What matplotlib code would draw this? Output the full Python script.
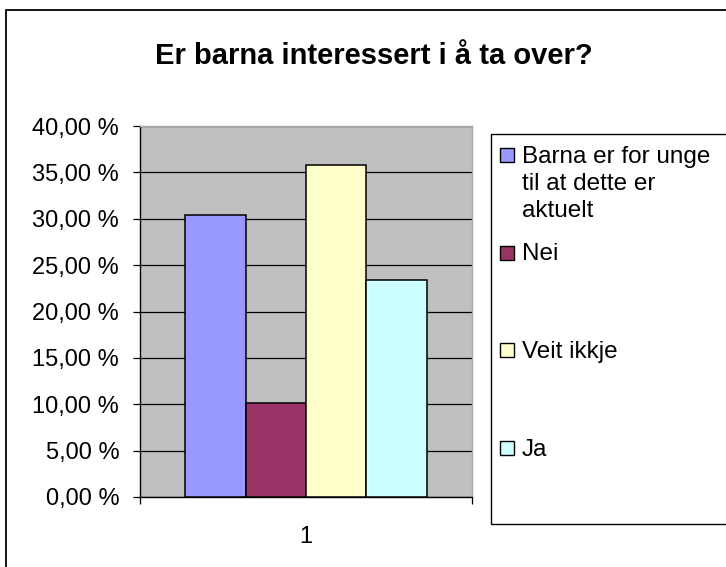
import matplotlib
matplotlib.use('Agg')
import matplotlib.pyplot as plt
import matplotlib.patches as patches
import numpy as np

title = "Er barna interessert i å ta over?"
categories = ["1"]
series_labels = ["Barna er for unge\ntil at dette er\naktuelt", "Nei", "Veit ikkje", "Ja"]
series_values = [30.4, 10.1, 35.8, 23.4]  # percent
series_colors = ["#9999FF", "#993366", "#FFFFCC", "#CCFFFF"]
yticks = [0, 5, 10, 15, 20, 25, 30, 35, 40]

W, H = 726, 567
plt.rcParams['font.family'] = ['Liberation Sans', 'DejaVu Sans']

fig = plt.figure(figsize=(W / 100, H / 100), dpi=100)

def fx(px):
  return px / W

def fy(py):
  return 1 - py / H

# outer chart frame (runs off the right and bottom edge like the original)
fig.patches.append(patches.Rectangle((fx(6), fy(620)), 1.2, fy(10) - fy(620),
                                     transform=fig.transFigure, fill=False,
                                     edgecolor='black', linewidth=1.3, clip_on=False))

ax = fig.add_axes([fx(140), fy(497), fx(472) - fx(140), fy(126) - fy(497)])
ax.set_facecolor('#C0C0C0')

n = len(series_values)
gap = 1.5
bar_w = 1.0 / (n + gap)
index = np.arange(len(categories))
for i, v in enumerate(series_values):
  ax.bar(index + (i - (n - 1) / 2.0) * bar_w, [v], bar_w, color=series_colors[i],
         edgecolor='black', linewidth=1.1, zorder=3)

ax.set_ylim(0, 40)
ax.set_xlim(-0.5, 0.5)
ax.set_yticks(yticks)
ax.set_yticklabels([("%.2f" % t).replace('.', ',') + " %" for t in yticks], fontsize=17)
ax.yaxis.grid(True, color='black', linewidth=0.9, zorder=1)
ax.set_axisbelow(True)
ax.tick_params(axis='y', direction='out', length=5, width=0.9, pad=10)

ax.set_xticks([-0.5, 0.5])
ax.set_xticklabels(["", ""])
ax.set_xticks(index, minor=True)
ax.set_xticklabels(categories, minor=True, fontsize=17)
ax.tick_params(axis='x', which='major', direction='out', length=5, width=0.9)
ax.tick_params(axis='x', which='minor', length=0, pad=21)

for s in ['left', 'bottom']:
  ax.spines[s].set_linewidth(1.0)
for s in ['top', 'right']:
  ax.spines[s].set_color('#A8A8A8')
  ax.spines[s].set_linewidth(1.0)

fig.text(fx(374), fy(56), title, ha='center', va='center', fontsize=21, fontweight='bold')

# legend box, Excel style: entries spread evenly over the box height
fig.patches.append(patches.Rectangle((fx(491), fy(524)), fx(760) - fx(491), fy(134) - fy(524),
                                     transform=fig.transFigure, fill=True, facecolor='white',
                                     edgecolor='black', linewidth=1.0, clip_on=False))
for i, lab in enumerate(series_labels):
  top = 143 + i * 97.5
  fig.patches.append(patches.Rectangle((fx(500), fy(top + 19)), fx(14) , fy(0) - fy(14),
                                       transform=fig.transFigure, facecolor=series_colors[i],
                                       edgecolor='black', linewidth=1.0))
  fig.text(fx(522), fy(top + 3), lab, ha='left', va='top', fontsize=17.5, linespacing=1.3)

fig.savefig('out.png', dpi=100)
